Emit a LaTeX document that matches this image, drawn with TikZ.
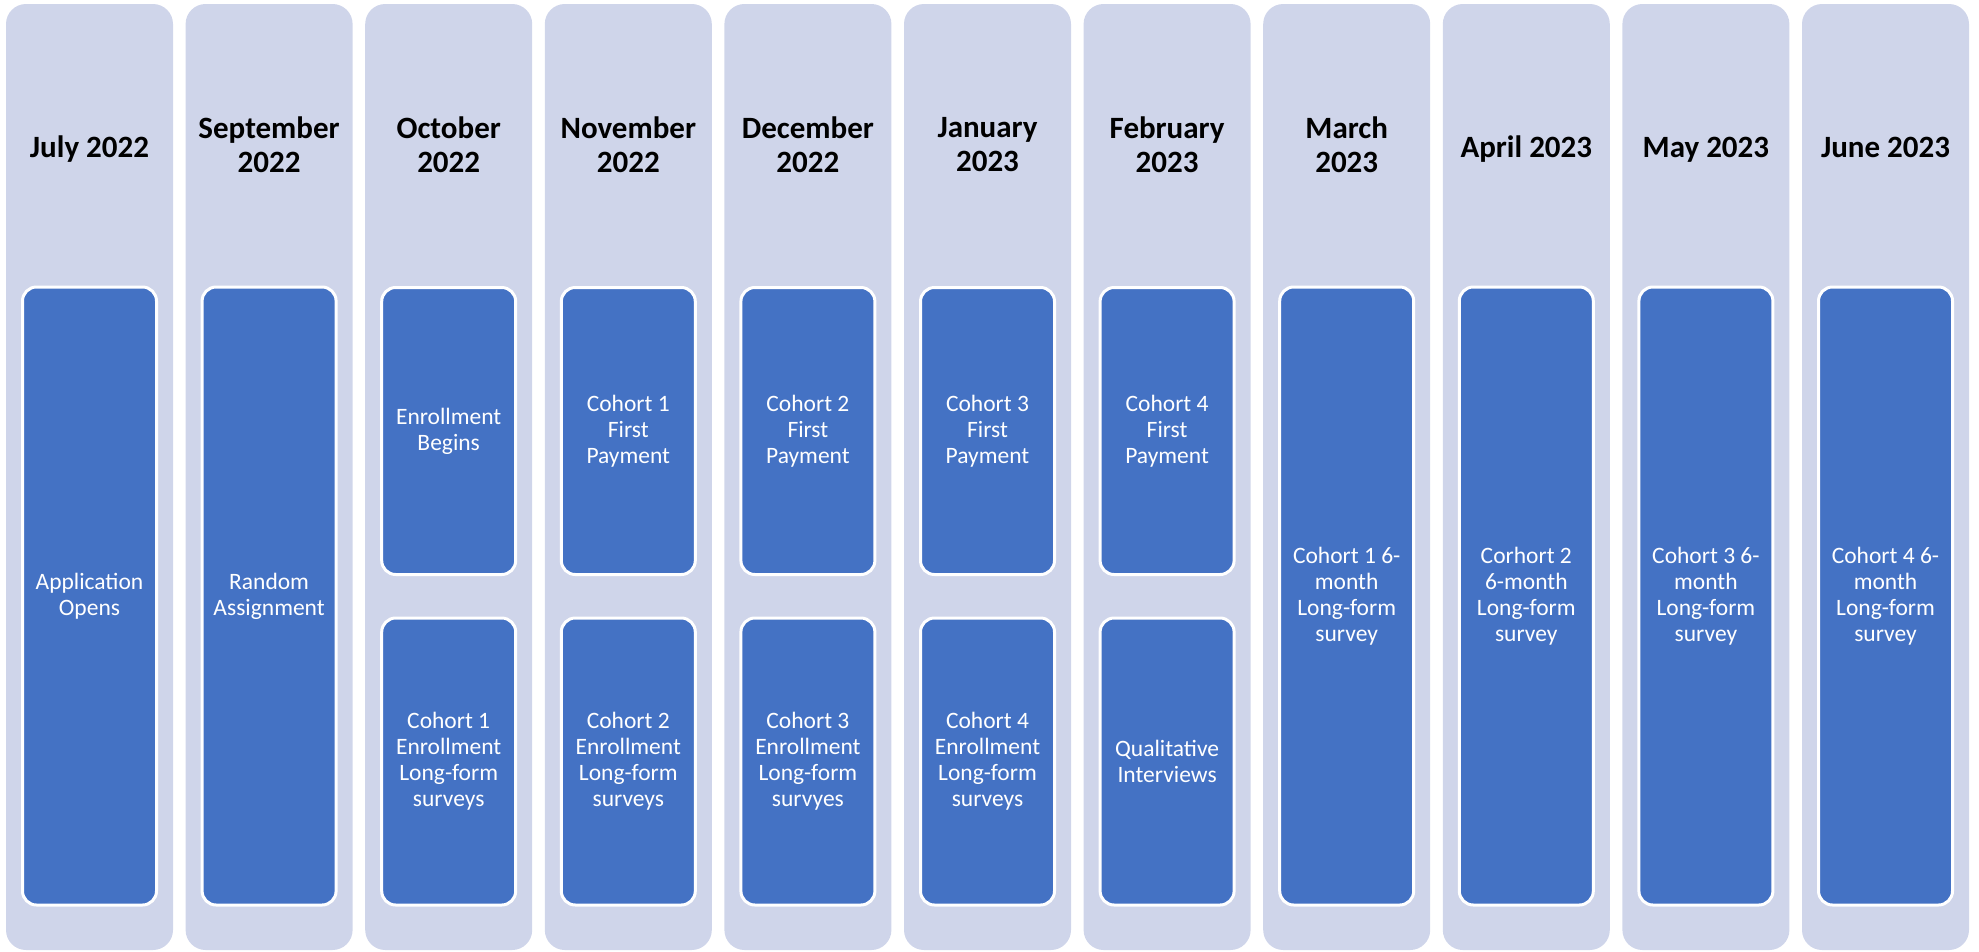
\documentclass[tikz,border=0pt]{standalone}
\usepackage{fontspec}
\setmainfont{Carlito}
\definecolor{colbg}{HTML}{CFD5EA}
\definecolor{boxblue}{HTML}{4472C4}
\begin{document}
\begin{tikzpicture}[x=1pt,y=-1pt,
  colbox/.style={fill=colbg, draw=none, rounded corners=20pt, minimum width=167pt, minimum height=946pt, inner sep=0pt},
  hdr/.style={font=\fontsize{31}{34}\selectfont\bfseries, align=center, text=black, inner sep=0pt},
  hdrone/.style={hdr, anchor=base},
  evt/.style={fill=boxblue, draw=white, line width=3pt, rounded corners=14pt, minimum width=134pt, text=white, align=center, font=\fontsize{23.5}{26}\selectfont, inner sep=0pt},
  fullbox/.style={evt, minimum height=618pt},
  halfbox/.style={evt, minimum height=287pt}]
\useasboundingbox (0,0) rectangle (1979,951);
% columns
\node[colbox] (c1) at (89.5,477) {};
\node[colbox] (c2) at (269.1,477) {};
\node[colbox] (c3) at (448.7,477) {};
\node[colbox] (c4) at (628.3,477) {};
\node[colbox] (c5) at (807.9,477) {};
\node[colbox] (c6) at (987.5,477) {};
\node[colbox] (c7) at (1167.1,477) {};
\node[colbox] (c8) at (1346.7,477) {};
\node[colbox] (c9) at (1526.3,477) {};
\node[colbox] (c10) at (1705.9,477) {};
\node[colbox] (c11) at (1885.5,477) {};
% headers
\node[hdrone] (h1) at (89.5,157) {July 2022};
\node[hdr] (h2) at (269.1,145) {September\\2022};
\node[hdr] (h3) at (448.7,145) {October\\2022};
\node[hdr] (h4) at (628.3,145) {November\\2022};
\node[hdr] (h5) at (807.9,145) {December\\2022};
\node[hdr] (h6) at (987.5,145) {January\\2023};
\node[hdr] (h7) at (1167.1,145) {February\\2023};
\node[hdr] (h8) at (1346.7,145) {March\\2023};
\node[hdrone] (h9) at (1526.3,157) {April 2023};
\node[hdrone] (h10) at (1705.9,157) {May 2023};
\node[hdrone] (h11) at (1885.5,157) {June 2023};
% events
\node[fullbox] (e1) at (89.5,596) {Application\\Opens};
\node[fullbox] (e2) at (269.1,596) {Random\\Assignment};
\node[halfbox] (e3a) at (448.7,431) {Enrollment\\Begins};
\node[halfbox] (e3b) at (448.7,761.5) {Cohort 1\\Enrollment\\Long-form\\surveys};
\node[halfbox] (e4a) at (628.3,431) {Cohort 1\\First\\Payment};
\node[halfbox] (e4b) at (628.3,761.5) {Cohort 2\\Enrollment\\Long-form\\surveys};
\node[halfbox] (e5a) at (807.9,431) {Cohort 2\\First\\Payment};
\node[halfbox] (e5b) at (807.9,761.5) {Cohort 3\\Enrollment\\Long-form\\survyes};
\node[halfbox] (e6a) at (987.5,431) {Cohort 3\\First\\Payment};
\node[halfbox] (e6b) at (987.5,761.5) {Cohort 4\\Enrollment\\Long-form\\surveys};
\node[halfbox] (e7a) at (1167.1,431) {Cohort 4\\First\\Payment};
\node[halfbox] (e7b) at (1167.1,761.5) {Qualitative\\Interviews};
\node[fullbox] (e8) at (1346.7,596) {Cohort 1 6-\\month\\Long-form\\survey};
\node[fullbox] (e9) at (1526.3,596) {Corhort 2\\6-month\\Long-form\\survey};
\node[fullbox] (e10) at (1705.9,596) {Cohort 3 6-\\month\\Long-form\\survey};
\node[fullbox] (e11) at (1885.5,596) {Cohort 4 6-\\month\\Long-form\\survey};
\end{tikzpicture}
\end{document}
